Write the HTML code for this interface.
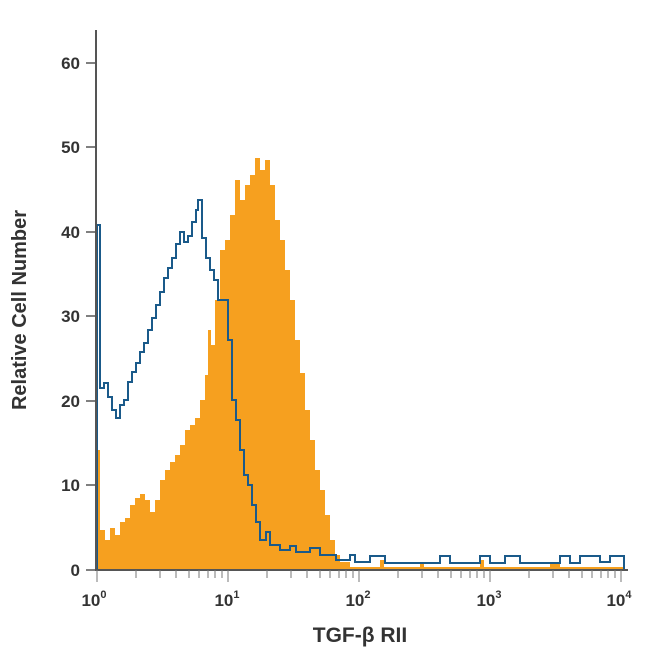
<!DOCTYPE html>
<html><head><style>body{margin:0;background:#fff}svg{display:block}text{font-family:"Liberation Sans",sans-serif;fill:#333}</style></head><body>
<svg width="650" height="650" viewBox="0 0 650 650">
<polygon fill="#f6a01f" points="97,570 97,450 100,450 100,530 105,530 105,540 110,540 110,528 115,528 115,535 120,535 120,522 125,522 125,518 130,518 130,505 135,505 135,498 140,498 140,494 145,494 145,500 150,500 150,512 155,512 155,500 160,500 160,480 165,480 165,470 170,470 170,462 175,462 175,455 180,455 180,445 185,445 185,430 190,430 190,425 195,425 195,418 200,418 200,400 205,400 205,375 208,375 208,330 211,330 211,345 215,345 215,300 220,300 220,250 225,250 225,240 230,240 230,215 235,215 235,180 240,180 240,200 245,200 245,185 250,185 250,175 255,175 255,158 260,158 260,170 265,170 265,160 270,160 270,185 275,185 275,220 280,220 280,240 285,240 285,270 290,270 290,300 295,300 295,340 300,340 300,373 305,373 305,410 310,410 310,440 315,440 315,470 320,470 320,490 325,490 325,515 330,515 330,540 335,540 335,555 340,555 340,562 350,562 350,567 380,567 380,560 384,560 384,567 420,567 420,562 424,562 424,567 480,567 480,560 484,560 484,567 550,567 550,564 560,564 560,567 625,567 625,570"/>
<polyline fill="none" stroke="#1a5a8a" stroke-width="2" points="97,570 97,225 100,225 100,388 104,388 104,383 108,383 108,397 112,397 112,410 116,410 116,418 120,418 120,405 124,405 124,400 128,400 128,382 132,382 132,372 136,372 136,363 140,363 140,352 144,352 144,343 148,343 148,330 152,330 152,318 156,318 156,305 160,305 160,292 164,292 164,278 168,278 168,268 172,268 172,258 176,258 176,244 180,244 180,232 184,232 184,242 188,242 188,236 192,236 192,222 196,222 196,210 198,210 198,200 202,200 202,238 206,238 206,258 210,258 210,270 214,270 214,280 218,280 218,300 224,300 224,300 228,300 228,340 232,340 232,400 236,400 236,420 240,420 240,450 244,450 244,475 248,475 248,485 252,485 252,505 256,505 256,522 260,522 260,540 266,540 266,532 270,532 270,545 280,545 280,550 290,550 290,546 296,546 296,552 310,552 310,548 320,548 320,555 336,555 336,560 350,560 350,555 355,555 355,562 370,562 370,556 385,556 385,563 440,563 440,556 450,556 450,563 480,563 480,556 490,556 490,563 505,563 505,556 520,556 520,563 560,563 560,556 570,556 570,563 580,563 580,556 600,556 600,562 610,562 610,556 624,556 624,570"/>
<g stroke="#555" stroke-width="2" fill="none">
<line x1="96" y1="30" x2="96" y2="571"/>
<line x1="95" y1="570" x2="628" y2="570"/>
</g>
<g stroke="#555" stroke-width="1.5">
<line x1="86" y1="570" x2="96" y2="570"/><line x1="86" y1="485" x2="96" y2="485"/><line x1="86" y1="401" x2="96" y2="401"/><line x1="86" y1="316" x2="96" y2="316"/><line x1="86" y1="232" x2="96" y2="232"/><line x1="86" y1="147" x2="96" y2="147"/><line x1="86" y1="63" x2="96" y2="63"/>
</g>
<g stroke="#777" stroke-width="1">
<path d="M97,570v12M136,570v8M160,570v8M176,570v8M189,570v8M199,570v8M208,570v8M215,570v8M222,570v8M228,570v12M267,570v8M291,570v8M307,570v8M320,570v8M330,570v8M339,570v8M346,570v8M353,570v8M359,570v12M398,570v8M422,570v8M438,570v8M451,570v8M461,570v8M470,570v8M477,570v8M484,570v8M490,570v12M529,570v8M553,570v8M569,570v8M582,570v8M592,570v8M601,570v8M608,570v8M615,570v8M621,570v12"/>
</g>
<g font-size="17" text-anchor="end" font-weight="bold">
<text x="80" y="576">0</text><text x="80" y="491">10</text><text x="80" y="407">20</text><text x="80" y="322">30</text><text x="80" y="238">40</text><text x="80" y="153">50</text><text x="80" y="69">60</text>
</g>
<g font-size="17" font-weight="bold" text-anchor="middle">
<text x="94" y="606">10<tspan font-size="11" dy="-8">0</tspan></text>
<text x="227" y="606">10<tspan font-size="11" dy="-8">1</tspan></text>
<text x="358" y="606">10<tspan font-size="11" dy="-8">2</tspan></text>
<text x="489" y="606">10<tspan font-size="11" dy="-8">3</tspan></text>
<text x="619" y="606">10<tspan font-size="11" dy="-8">4</tspan></text>
</g>
<text x="360" y="642" font-size="21" font-weight="bold" text-anchor="middle">TGF-β RII</text>
<text transform="translate(26,310) rotate(-90)" font-size="20" font-weight="bold" text-anchor="middle">Relative Cell Number</text>
</svg>
</body></html>
